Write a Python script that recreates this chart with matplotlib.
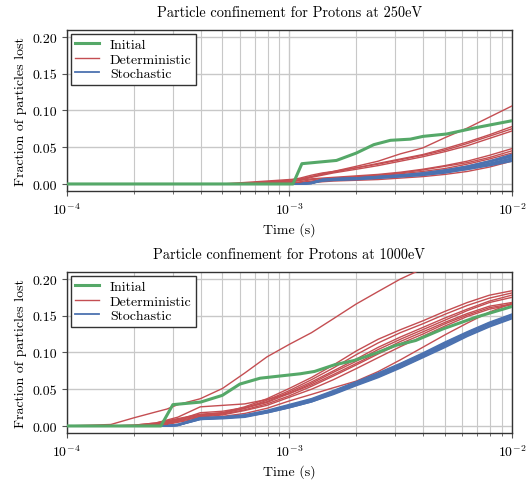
import matplotlib
matplotlib.use("Agg")
import matplotlib.pyplot as plt
from matplotlib.ticker import LogLocator, NullFormatter

plt.rcParams['font.family'] = 'serif'
plt.rcParams['font.serif'] = ['cmr10']
plt.rcParams['mathtext.fontset'] = 'cm'
plt.rcParams['axes.formatter.use_mathtext'] = True

GREEN = '#55A868'
RED = '#C44E52'
BLUE = '#4C72B0'

# ---------------- 250 eV ----------------
t_250 = [1e-4, 5.01e-4, 6.31e-4, 7.94e-4, 1e-3, 1.12e-3, 1.26e-3, 1.41e-3, 1.58e-3,
         2e-3, 2.51e-3, 3.16e-3, 3.98e-3, 5.01e-3, 6.31e-3, 7.94e-3, 1e-2]

t_init_250 = [1e-4, 1.04e-3, 1.14e-3, 1.63e-3, 2.0e-3, 2.4e-3, 2.85e-3, 3.5e-3,
              4.0e-3, 5.1e-3, 7.0e-3, 1e-2]
init_250 = [0, 0, 0.0276, 0.032, 0.042, 0.0535, 0.0594, 0.061, 0.0648, 0.068, 0.077, 0.086]

det_250 = [
    [0, 0, 0.001, 0.003, 0.005, 0.008, 0.012, 0.015, 0.017, 0.024, 0.031, 0.041, 0.049, 0.063, 0.076, 0.091, 0.106],
    [0, 0, 0, 0.001, 0.003, 0.006, 0.010, 0.013, 0.016, 0.022, 0.028, 0.034, 0.040, 0.048, 0.057, 0.067, 0.078],
    [0, 0, 0.002, 0.004, 0.006, 0.007, 0.010, 0.014, 0.017, 0.022, 0.027, 0.033, 0.039, 0.046, 0.055, 0.065, 0.075],
    [0, 0, 0, 0, 0.002, 0.005, 0.009, 0.012, 0.015, 0.020, 0.025, 0.031, 0.037, 0.044, 0.052, 0.062, 0.072],
    [0, 0, 0, 0.002, 0.004, 0.005, 0.007, 0.008, 0.009, 0.011, 0.013, 0.016, 0.020, 0.025, 0.031, 0.039, 0.048],
    [0, 0, 0, 0, 0.001, 0.003, 0.006, 0.007, 0.008, 0.010, 0.012, 0.015, 0.019, 0.024, 0.029, 0.036, 0.045],
    [0, 0, 0, 0, 0, 0.002, 0.004, 0.006, 0.007, 0.009, 0.011, 0.014, 0.017, 0.021, 0.027, 0.034, 0.042],
    [0, 0, 0, 0, 0, 0.001, 0.003, 0.004, 0.005, 0.007, 0.009, 0.012, 0.015, 0.019, 0.024, 0.031, 0.0385],
    [0, 0, 0, 0, 0, 0, 0.002, 0.003, 0.004, 0.005, 0.006, 0.008, 0.010, 0.013, 0.017, 0.023, 0.031],
]

stoch_250 = [
    [0, 0, 0, 0, 0, 0, 0.001, 0.005, 0.006, 0.007, 0.009, 0.011, 0.013, 0.017, 0.022, 0.028, 0.035],
    [0, 0, 0, 0, 0, 0, 0.001, 0.006, 0.007, 0.008, 0.010, 0.012, 0.015, 0.019, 0.024, 0.031, 0.039],
    [0, 0, 0, 0, 0, 0, 0.001, 0.005, 0.006, 0.007, 0.008, 0.010, 0.012, 0.016, 0.020, 0.026, 0.032],
    [0, 0, 0, 0, 0, 0, 0.002, 0.006, 0.007, 0.008, 0.009, 0.011, 0.014, 0.018, 0.023, 0.030, 0.037],
    [0, 0, 0, 0, 0, 0, 0.001, 0.004, 0.005, 0.006, 0.008, 0.010, 0.012, 0.015, 0.020, 0.025, 0.031],
    [0, 0, 0, 0, 0, 0, 0.001, 0.005, 0.006, 0.008, 0.009, 0.011, 0.013, 0.017, 0.021, 0.027, 0.034],
    [0, 0, 0, 0, 0, 0, 0.002, 0.006, 0.007, 0.008, 0.010, 0.012, 0.014, 0.018, 0.024, 0.031, 0.040],
]

# ---------------- 1000 eV ----------------
t_1000 = [1e-4, 1.58e-4, 2e-4, 2.51e-4, 2.82e-4, 3.16e-4, 3.98e-4, 5.01e-4, 6.31e-4,
          7.94e-4, 1e-3, 1.26e-3, 1.58e-3, 2e-3, 2.51e-3, 3.16e-3, 3.98e-3, 5.01e-3,
          6.31e-3, 7.94e-3, 1e-2]

t_init_1000 = [1e-4, 2.65e-4, 3.0e-4, 4.0e-4, 5.0e-4, 6.0e-4, 7.4e-4, 9.1e-4, 1.12e-3,
               1.3e-3, 1.6e-3, 1.95e-3, 2.45e-3, 3.0e-3, 3.7e-3, 4.9e-3, 6.9e-3, 1e-2]
init_1000 = [0, 0, 0.029, 0.0325, 0.0416, 0.057, 0.065, 0.068, 0.071, 0.0742, 0.0833,
             0.089, 0.099, 0.1095, 0.1163, 0.132, 0.148, 0.1625]

det_1000 = [
    [0, 0.002, 0.011, 0.019, 0.023, 0.029, 0.037, 0.051, 0.072, 0.094, 0.111, 0.127, 0.146, 0.166, 0.183, 0.200, 0.214, 0.228, 0.240, 0.250, 0.260],
    [0, 0, 0.001, 0.004, 0.007, 0.010, 0.016, 0.018, 0.026, 0.037, 0.051, 0.066, 0.083, 0.102, 0.118, 0.131, 0.143, 0.156, 0.168, 0.178, 0.184],
    [0, 0, 0, 0.003, 0.006, 0.009, 0.014, 0.017, 0.024, 0.035, 0.048, 0.063, 0.079, 0.097, 0.113, 0.127, 0.139, 0.152, 0.164, 0.174, 0.181],
    [0, 0, 0, 0.002, 0.005, 0.008, 0.018, 0.020, 0.025, 0.033, 0.046, 0.060, 0.075, 0.091, 0.107, 0.121, 0.134, 0.147, 0.159, 0.170, 0.178],
    [0, 0, 0.001, 0.004, 0.008, 0.012, 0.026, 0.028, 0.030, 0.036, 0.044, 0.056, 0.070, 0.085, 0.100, 0.115, 0.128, 0.141, 0.153, 0.163, 0.168],
    [0, 0, 0, 0.002, 0.004, 0.007, 0.013, 0.016, 0.022, 0.030, 0.041, 0.054, 0.068, 0.083, 0.098, 0.112, 0.125, 0.139, 0.151, 0.161, 0.166],
    [0, 0, 0, 0.001, 0.003, 0.006, 0.012, 0.015, 0.021, 0.028, 0.039, 0.050, 0.063, 0.078, 0.093, 0.108, 0.122, 0.136, 0.149, 0.159, 0.165],
    [0, 0, 0, 0, 0.002, 0.005, 0.010, 0.013, 0.017, 0.024, 0.034, 0.043, 0.052, 0.061, 0.074, 0.090, 0.107, 0.124, 0.140, 0.155, 0.167],
    [0, 0, 0, 0.002, 0.005, 0.008, 0.015, 0.018, 0.024, 0.032, 0.044, 0.058, 0.073, 0.088, 0.104, 0.118, 0.131, 0.144, 0.157, 0.168, 0.175],
]

stoch_1000 = [
    [0, 0, 0, 0, 0, 0.001, 0.010, 0.011, 0.013, 0.019, 0.026, 0.034, 0.045, 0.057, 0.068, 0.081, 0.096, 0.110, 0.125, 0.138, 0.149],
    [0, 0, 0, 0, 0, 0.001, 0.011, 0.012, 0.014, 0.020, 0.028, 0.036, 0.047, 0.059, 0.071, 0.084, 0.098, 0.113, 0.127, 0.140, 0.151],
    [0, 0, 0, 0, 0, 0.001, 0.009, 0.010, 0.012, 0.018, 0.025, 0.033, 0.043, 0.055, 0.066, 0.079, 0.093, 0.107, 0.122, 0.135, 0.146],
    [0, 0, 0, 0, 0, 0.002, 0.010, 0.012, 0.014, 0.020, 0.027, 0.035, 0.046, 0.058, 0.070, 0.083, 0.097, 0.112, 0.126, 0.139, 0.150],
    [0, 0, 0, 0, 0, 0.001, 0.009, 0.011, 0.013, 0.018, 0.025, 0.033, 0.044, 0.056, 0.067, 0.080, 0.094, 0.109, 0.123, 0.136, 0.147],
    [0, 0, 0, 0, 0, 0.001, 0.010, 0.011, 0.013, 0.019, 0.027, 0.035, 0.046, 0.058, 0.069, 0.082, 0.097, 0.111, 0.126, 0.139, 0.150],
    [0, 0, 0, 0, 0, 0.002, 0.011, 0.012, 0.015, 0.021, 0.029, 0.037, 0.048, 0.060, 0.072, 0.085, 0.099, 0.114, 0.128, 0.141, 0.152],
]

panels = [
    ('Particle confinement for Protons at 250eV', t_250, t_init_250, init_250, det_250, stoch_250),
    ('Particle confinement for Protons at 1000eV', t_1000, t_init_1000, init_1000, det_1000, stoch_1000),
]

fig = plt.figure(figsize=(5.27, 4.81), dpi=100)
axes = [fig.add_axes([0.1266, 0.6002, 0.8444, 0.336]),
        fig.add_axes([0.1266, 0.0971, 0.8444, 0.336])]

for ax, (title, t, t_init, init, det, stoch) in zip(axes, panels):
    h_det = None
    for i, y in enumerate(det):
        ln, = ax.plot(t, y, color=RED, lw=1.0, zorder=3)
        if i == 0:
            h_det = ln
    h_sto = None
    for i, y in enumerate(stoch):
        ln, = ax.plot(t, y, color=BLUE, lw=1.3, zorder=4)
        if i == 0:
            h_sto = ln
    h_init, = ax.plot(t_init, init, color=GREEN, lw=2.2, zorder=5)

    ax.set_xscale('log')
    ax.set_xlim(1e-4, 1e-2)
    ax.set_ylim(-0.01, 0.21)
    ax.set_yticks([0, 0.05, 0.10, 0.15, 0.20])
    ax.set_yticklabels(['0.00', '0.05', '0.10', '0.15', '0.20'])
    ax.xaxis.set_minor_locator(LogLocator(base=10, subs=range(2, 10)))
    ax.xaxis.set_minor_formatter(NullFormatter())

    ax.grid(True, which='major', color='#c8c8c8', lw=1.0, zorder=0)
    ax.grid(True, which='minor', axis='x', color='#c8c8c8', lw=0.8, zorder=0)
    ax.set_axisbelow(True)
    for sp in ax.spines.values():
        sp.set_color('#333333')
        sp.set_linewidth(1.0)
    ax.tick_params(which='both', direction='out', color='#555555', labelsize=10)
    ax.tick_params(which='major', length=3.5)
    ax.tick_params(which='minor', length=2.5)

    ax.set_title(title, fontsize=10.3, pad=10)
    ax.set_xlabel('Time (s)', fontsize=10, labelpad=4)
    ax.set_ylabel('Fraction of particles lost', fontsize=10)

    leg = ax.legend([h_init, h_det, h_sto], ['Initial', 'Deterministic', 'Stochastic'],
                    loc='upper left', fontsize=10, fancybox=False, framealpha=1,
                    edgecolor='#333333', handlelength=1.7, borderaxespad=0.3,
                    labelspacing=0.15, borderpad=0.3)
    leg.get_frame().set_linewidth(1.0)
    leg.set_zorder(10)

fig.savefig('out.png', dpi=100)
